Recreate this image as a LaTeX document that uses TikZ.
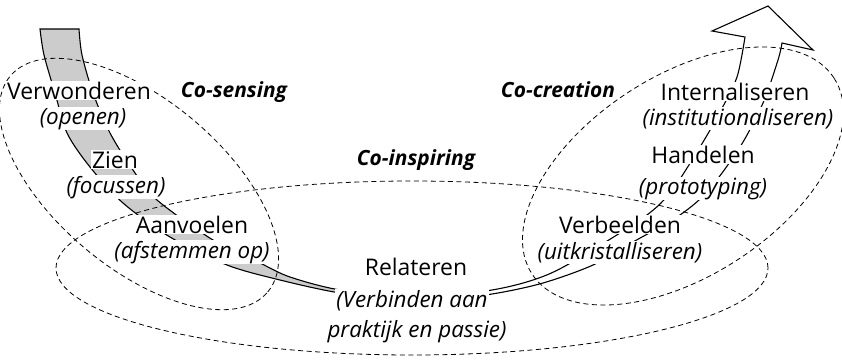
\documentclass[tikz,border=0pt]{standalone}
\usepackage{fontspec}
\setmainfont{Open Sans}

\tikzset{
  lbl/.style={anchor=base, inner sep=1pt, fill=white, font=\fontsize{23}{27}\selectfont},
  sublbl/.style={anchor=base, inner sep=1pt, fill=white, font=\fontsize{22.5}{27}\selectfont\itshape},
  phase/.style={anchor=base, inner sep=0pt, font=\fontsize{21}{25}\selectfont\bfseries\itshape},
  zone/.style={draw=black, line width=0.8bp, dash pattern=on 5bp off 3.5bp},
  bandline/.style={draw=black, line width=1.1bp, line join=miter},
}

\begin{document}
\begin{tikzpicture}[x=1bp,y=-1bp]
\useasboundingbox (0,0) rectangle (842,361);

% grey left half of the band
\begin{scope}
  \clip (0,0) rectangle (343,361);
  \fill[gray!40]
    plot[smooth] coordinates {(40,29) (44,55) (55,93) (67,133) (90,167) (123,203) (170,237) (227,265) (280,280) (340,293) (420,303)}
    -- plot[smooth] coordinates {(420,299) (340,290) (290,277) (260,263) (213,240) (157,200) (133,170) (110,133) (93,93) (82,55) (79,29)}
    -- cycle;
\end{scope}

% outline of the band with its arrow head
\draw[bandline]
  plot[smooth] coordinates {(40,29) (44,55) (55,93) (67,133) (90,167) (123,203) (170,237) (227,265) (280,280) (340,293) (420,303) (492,294) (543,283) (593,265) (633,242) (677,217) (707,192) (740,147) (763,103) (778,60) (782,43)}
  -- (813,50) -- (768,6) -- (712,31) -- (745,37)
  -- plot[smooth] coordinates {(745,37) (737,77) (720,112) (700,147) (670,193) (640,220) (567,265) (533,280) (492,290) (420,299) (340,290) (290,277) (260,263) (213,240) (157,200) (133,170) (110,133) (93,93) (82,55) (79,29)}
  -- cycle;

% the three zones
\draw[zone, rotate around={-40:(139,184)}] (139,184) ellipse [x radius=168bp, y radius=84bp];
\draw[zone] (412,268) ellipse [x radius=356bp, y radius=87bp];
\draw[zone, rotate around={33:(683,176)}] (683,176) ellipse [x radius=180bp, y radius=100bp];

% stages along the band
\node[lbl]    (verw)  at (79,99)   {Verwonderen};
\node[sublbl] (open)  at (83,124)  {(openen)};
\node[lbl]    (zien)  at (115,168) {Zien};
\node[sublbl] (focus) at (116,193) {(focussen)};
\node[lbl]    (aanv)  at (192,233) {Aanvoelen};
\node[sublbl] (afst)  at (192,258) {(afstemmen op)};
\node[lbl]    (rel)   at (416,275) {Relateren};
\node[sublbl] (verb)  at (412,307) {(Verbinden aan};
\node[sublbl] (prak)  at (417,337) {praktijk en passie)};
\node[lbl]    (verbe) at (620,233) {Verbeelden};
\node[sublbl] (uitk)  at (620,259) {(uitkristalliseren)};
\node[lbl]    (hand)  at (703,163) {Handelen};
\node[sublbl] (proto) at (703,194) {(prototyping)};
\node[lbl]    (inter) at (735,100) {Internaliseren};
\node[sublbl] (inst)  at (738,125) {(institutionaliseren)};

% zone names
\node[phase] (sens) at (234,97)  {Co-sensing};
\node[phase] (insp) at (416,165) {Co-inspiring};
\node[phase] (crea) at (558,97)  {Co-creation};
\end{tikzpicture}
\end{document}
